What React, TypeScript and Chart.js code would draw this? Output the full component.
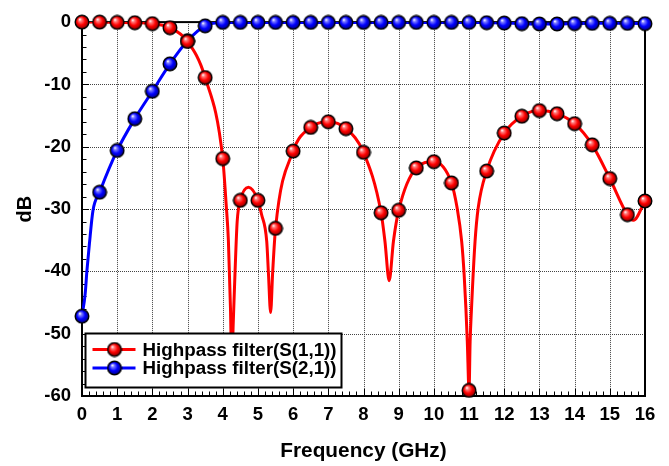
import { useEffect, useRef } from "react";
import { Chart, registerables } from "chart.js";

Chart.register(...registerables);

// ---------- DATA ----------
const seriesNames = ["Highpass filter(S(1,1))", "Highpass filter(S(2,1))"];

const markerFreqs = [
  0, 0.5, 1, 1.5, 2, 2.5, 3, 3.5, 4, 4.5, 5, 5.5, 6, 6.5, 7, 7.5, 8, 8.5, 9, 9.5,
  10, 10.5, 11, 11.5, 12, 12.5, 13, 13.5, 14, 14.5, 15, 15.5, 16,
];

const s11Markers = [
  0, 0, -0.05, -0.1, -0.25, -0.9, -3.1, -8.9, -21.9, -28.6, -28.6, -33.1, -20.7,
  -16.9, -16.0, -17.1, -20.9, -30.6, -30.2, -23.4, -22.4, -25.8, -59.1, -23.9,
  -17.8, -15.1, -14.2, -14.7, -16.3, -19.7, -25.1, -30.9, -28.7,
];

const s21Markers = [
  -47.2, -27.3, -20.6, -15.5, -11.1, -6.7, -3.0, -0.6, -0.05, -0.05, -0.05, -0.05,
  -0.05, -0.05, -0.05, -0.05, -0.05, -0.05, -0.05, -0.05, -0.05, -0.05, -0.05,
  -0.1, -0.15, -0.25, -0.3, -0.3, -0.25, -0.2, -0.2, -0.2, -0.25,
];

// smooth simulated curves (incl. resonance notches)
const s11CurveFreqs = [
  0, 0.5, 1, 1.5, 2, 2.5, 3, 3.5, 4, 4.1, 4.16, 4.22, 4.255, 4.3, 4.35, 4.41, 4.5,
  4.73, 5, 5.1, 5.25, 5.3, 5.36, 5.42, 5.5, 6, 6.5, 7, 7.5, 8, 8.5, 8.61, 8.73,
  8.85, 9, 9.5, 10, 10.5, 10.66, 10.79, 10.86, 10.91, 10.95, 11, 11.03, 11.07,
  11.17, 11.26, 11.5, 12, 12.5, 13, 13.5, 14, 14.5, 15, 15.5, 15.67, 16,
];
const s11CurveDb = [
  0, 0, -0.05, -0.1, -0.25, -0.9, -3.1, -8.9, -21.9, -29.5, -35, -46, -55, -48,
  -40, -32, -28.6, -26.5, -28.6, -30.8, -35.2, -40.5, -46.6, -40, -33.1, -20.7,
  -16.9, -16.0, -17.1, -20.9, -30.6, -35.2, -41.5, -35.2, -30.2, -23.4, -22.4,
  -25.8, -29.8, -35.2, -40.5, -45.9, -51.3, -59.1, -51.3, -45.9, -35.2, -29.8,
  -23.9, -17.8, -15.1, -14.2, -14.7, -16.3, -19.7, -25.1, -30.9, -31.8, -28.7,
];

const s21LowFreqs = [0, 0.09, 0.14, 0.21, 0.31];
const s21LowDb = [-47.2, -43.6, -39.9, -35.6, -30.3];

const xRange = [0, 16];
const yRange = [-60, 0];
const xMajorStep = 1;
const yMajorStep = 10;
const xMinorStep = 0.2;
const yMinorStep = 2;

// ---------- STYLE ----------
const FONT = "'Liberation Sans', Arial, Helvetica, sans-serif";

function makeSphere(light: string, base: string, dark: string): HTMLCanvasElement {
  const c = document.createElement("canvas");
  c.width = 16;
  c.height = 16;
  const g = c.getContext("2d")!;
  const grad = g.createRadialGradient(5.8, 5.2, 0.3, 8, 8, 7.2);
  grad.addColorStop(0, "#ffffff");
  grad.addColorStop(0.18, light);
  grad.addColorStop(0.55, base);
  grad.addColorStop(1, dark);
  g.beginPath();
  g.arc(8, 8, 6.8, 0, Math.PI * 2);
  g.fillStyle = grad;
  g.fill();
  g.lineWidth = 1.4;
  g.strokeStyle = "#000";
  g.stroke();
  return c;
}

const pts = (xs: number[], ys: number[]) => xs.map((x, i) => ({ x, y: ys[i] }));

export default function App() {
  const ref = useRef<HTMLCanvasElement | null>(null);

  useEffect(() => {
    if (!ref.current) return;
    const redSphere = makeSphere("#ff8080", "#ff0000", "#7a0000");
    const blueSphere = makeSphere("#8080ff", "#0000ff", "#00007a");

    const s21CurveFreqs = [...s21LowFreqs, ...markerFreqs.slice(1)];
    const s21CurveDb = [...s21LowDb, ...s21Markers.slice(1)];

    const frameGrid = {
      id: "frameGrid",
      beforeDatasetsDraw(chart: any) {
        const { ctx, chartArea: a, scales } = chart;
        const x = scales.x;
        const y = scales.y;
        ctx.save();
        // dotted grid
        ctx.strokeStyle = "#444";
        ctx.lineWidth = 1;
        ctx.setLineDash([1, 1]);
        for (let v = xRange[0] + xMajorStep; v < xRange[1] - 1e-9; v += xMajorStep) {
          const px = Math.round(x.getPixelForValue(v)) + 0.5;
          ctx.beginPath();
          ctx.moveTo(px, a.top);
          ctx.lineTo(px, a.bottom);
          ctx.stroke();
        }
        for (let v = yRange[0] + yMajorStep; v < yRange[1] - 1e-9; v += yMajorStep) {
          const py = Math.round(y.getPixelForValue(v)) + 0.5;
          ctx.beginPath();
          ctx.moveTo(a.left, py);
          ctx.lineTo(a.right, py);
          ctx.stroke();
        }
        ctx.setLineDash([]);
        // inward ticks
        ctx.strokeStyle = "#000";
        ctx.lineWidth = 1;
        const nx = Math.round((xRange[1] - xRange[0]) / xMinorStep);
        for (let i = 0; i <= nx; i++) {
          const v = xRange[0] + i * xMinorStep;
          const major = i % Math.round(xMajorStep / xMinorStep) === 0;
          const px = Math.round(x.getPixelForValue(v)) + 0.5;
          ctx.beginPath();
          ctx.moveTo(px, a.bottom);
          ctx.lineTo(px, a.bottom - (major ? 7 : 4.5));
          ctx.stroke();
        }
        const ny = Math.round((yRange[1] - yRange[0]) / yMinorStep);
        for (let i = 0; i <= ny; i++) {
          const v = yRange[0] + i * yMinorStep;
          const major = i % Math.round(yMajorStep / yMinorStep) === 0;
          const py = Math.round(y.getPixelForValue(v)) + 0.5;
          ctx.beginPath();
          ctx.moveTo(a.left, py);
          ctx.lineTo(a.left + (major ? 7 : 4.5), py);
          ctx.stroke();
        }
        // frame
        ctx.lineWidth = 2;
        ctx.strokeRect(a.left, a.top, a.right - a.left, a.bottom - a.top);
        ctx.restore();
      },
    };

    const legendBox = {
      id: "legendBox",
      afterDraw(chart: any) {
        const { ctx, chartArea: a } = chart;
        const bx = a.left + 3.5;
        const by = a.bottom - 62.5;
        const w = 256;
        const h = 54;
        ctx.save();
        ctx.fillStyle = "#fff";
        ctx.fillRect(bx, by, w, h);
        ctx.lineWidth = 2;
        ctx.strokeStyle = "#000";
        ctx.strokeRect(bx, by, w, h);
        const rows = [
          { name: seriesNames[0], color: "#ff0000", img: redSphere },
          { name: seriesNames[1], color: "#0000ff", img: blueSphere },
        ];
        rows.forEach((r, i) => {
          const cy = by + 16 + i * 18.5;
          ctx.strokeStyle = r.color;
          ctx.lineWidth = 3;
          ctx.beginPath();
          ctx.moveTo(bx + 7, cy);
          ctx.lineTo(bx + 50, cy);
          ctx.stroke();
          ctx.drawImage(r.img, bx + 29 - 8, cy - 8);
          ctx.fillStyle = "#000";
          ctx.font = `bold 18.8px ${FONT}`;
          ctx.textBaseline = "middle";
          ctx.textAlign = "left";
          ctx.fillText(r.name, bx + 57, cy + 1);
        });
        ctx.restore();
      },
    };

    const tickFont = { family: FONT, size: 18.5, weight: "bold" as const };

    const chart = new Chart(ref.current, {
      type: "line",
      data: {
        datasets: [
          {
            label: seriesNames[0],
            data: pts(markerFreqs, s11Markers),
            showLine: false,
            pointStyle: redSphere as any,
            pointRadius: 7,
            pointHoverRadius: 7,
            clip: false as any,
          },
          {
            label: seriesNames[0] + " curve",
            data: pts(s11CurveFreqs, s11CurveDb),
            borderColor: "#ff0000",
            borderWidth: 3,
            pointRadius: 0,
            cubicInterpolationMode: "monotone",
            fill: false,
          },
          {
            label: seriesNames[1],
            data: pts(markerFreqs, s21Markers),
            showLine: false,
            pointStyle: blueSphere as any,
            pointRadius: 7,
            pointHoverRadius: 7,
            clip: false as any,
          },
          {
            label: seriesNames[1] + " curve",
            data: pts(s21CurveFreqs, s21CurveDb),
            borderColor: "#0000ff",
            borderWidth: 3,
            pointRadius: 0,
            cubicInterpolationMode: "monotone",
            fill: false,
          },
        ],
      },
      options: {
        responsive: false,
        animation: false,
        devicePixelRatio: 1,
        events: [],
        layout: { padding: { left: 0, top: 21, right: 24, bottom: 0 } },
        plugins: {
          legend: { display: false },
          tooltip: { enabled: false },
        },
        scales: {
          x: {
            type: "linear",
            min: xRange[0],
            max: xRange[1],
            grid: { display: false, drawTicks: false },
            border: { display: false },
            ticks: {
              stepSize: xMajorStep,
              autoSkip: false,
              maxRotation: 0,
              color: "#000",
              font: tickFont,
              padding: 8,
            },
            title: {
              display: true,
              text: "Frequency (GHz)",
              color: "#000",
              font: { family: FONT, size: 20.8, weight: "bold" },
              padding: { top: 0, bottom: 2 },
            },
            afterFit: (s: any) => {
              s.height = 70;
            },
          },
          y: {
            type: "linear",
            min: yRange[0],
            max: yRange[1],
            grid: { display: false, drawTicks: false },
            border: { display: false },
            ticks: {
              stepSize: yMajorStep,
              color: "#000",
              font: tickFont,
              padding: 11,
            },
            title: {
              display: true,
              text: "dB",
              color: "#000",
              font: { family: FONT, size: 20, weight: "bold" },
              padding: { top: 13, bottom: 0 },
            },
            afterFit: (s: any) => {
              s.width = 82;
            },
          },
        },
      },
      plugins: [frameGrid, legendBox],
    });
    return () => chart.destroy();
  }, []);

  return (
    <div style={{ position: "absolute", left: 0, top: 0, width: 669, height: 466, background: "#fff" }}>
      <canvas ref={ref} width={669} height={466} style={{ display: "block" }} />
    </div>
  );
}
